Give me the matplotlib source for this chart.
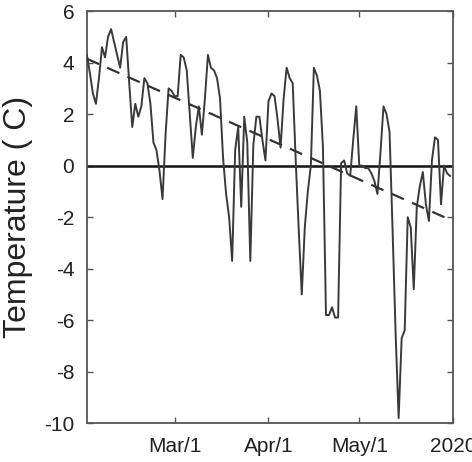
import numpy as np
import pandas as pd
import matplotlib
matplotlib.use("Agg")
import matplotlib.pyplot as plt

# daily temperature, Feb 1 - May 31 2020
start_date = "2020-02-01"
temps = [
    4.3, 3.6, 2.8, 2.4, 3.4, 4.6, 4.2, 5.0, 5.3, 4.8,
    4.3, 3.8, 4.8, 5.0, 3.2, 1.5, 2.4, 1.9, 2.3, 3.4,
    3.2, 2.4, 0.9, 0.6, -0.2, -1.3, 1.2, 3.0, 2.9, 2.7,
    2.7, 4.3, 4.2, 3.7, 2.0, 0.3, 1.5, 2.3, 1.2, 2.6,
    4.3, 3.8, 3.7, 3.4, 2.6, 0.3, -1.1, -2.0, -3.7, 0.6,
    1.5, -1.6, 1.9, 0.9, -3.7, 0.8, 1.9, 1.9, 1.0, 0.2,
    2.5, 2.8, 2.7, 1.8, 0.7, 2.6, 3.8, 3.4, 3.2, 0.2,
    -2.5, -5.0, -2.4, -1.0, 0.0, 3.8, 3.5, 2.9, 0.7, -5.8,
    -5.8, -5.5, -5.9, -5.9, 0.1, 0.2, -0.3, -0.4, 1.0, 2.3,
    0.0, 0.0, -0.1, -0.1, -0.3, -0.6, -1.1, 0.5, 2.3, 2.0,
    1.3, -2.5, -6.5, -9.8, -6.7, -6.4, -2.0, -2.4, -4.8, -1.6,
    -0.8, -0.25, -1.5, -2.15, 0.2, 1.1, 1.0, -1.5, 0.0, -0.3,
    -0.4,
]
# dashed trend line, value at first and last day
trend_ends = [4.15, -2.1]
tick_dates = ["2020-03-01", "2020-04-01", "2020-05-01", "2020-06-01"]
tick_labels = ["Mar/1", "Apr/1", "May/1", "2020"]
y_ticks = [-10, -8, -6, -4, -2, 0, 2, 4, 6]

plt.rcParams["font.family"] = ["Liberation Sans", "DejaVu Sans"]
plt.rcParams["axes.unicode_minus"] = False

dates = pd.date_range(start_date, periods=len(temps), freq="D")
trend_dates = [dates[0], dates[-1]]

fig = plt.figure(figsize=(4.72, 4.62), dpi=100)
ax = fig.add_axes([0.184, 0.084, 0.776, 0.892])

ax.axhline(0, color="#111111", lw=1.8, zorder=2)
ax.plot(dates, temps, color="#3a3a3a", lw=1.4, zorder=3)
ax.plot(trend_dates, trend_ends, color="#333333", lw=1.6, dashes=(6, 4), zorder=3)

ax.set_xlim(pd.Timestamp("2020-02-01"), pd.Timestamp("2020-06-01"))
ax.set_ylim(-10, 6)
ax.set_yticks(y_ticks)
ax.set_xticks(pd.to_datetime(tick_dates))
ax.set_xticklabels(tick_labels)

ax.tick_params(direction="in", length=4, width=1, color="#555555",
               top=True, right=True, labelsize=15, labelcolor="#222222")
ax.tick_params(axis="x", pad=10)
ax.tick_params(axis="y", pad=9)
for sp in ax.spines.values():
    sp.set_color("#555555")
    sp.set_linewidth(1.3)

ax.set_ylabel("Temperature ( C)", fontsize=23, color="#222222", labelpad=8)

fig.savefig("out.png", dpi=100)
